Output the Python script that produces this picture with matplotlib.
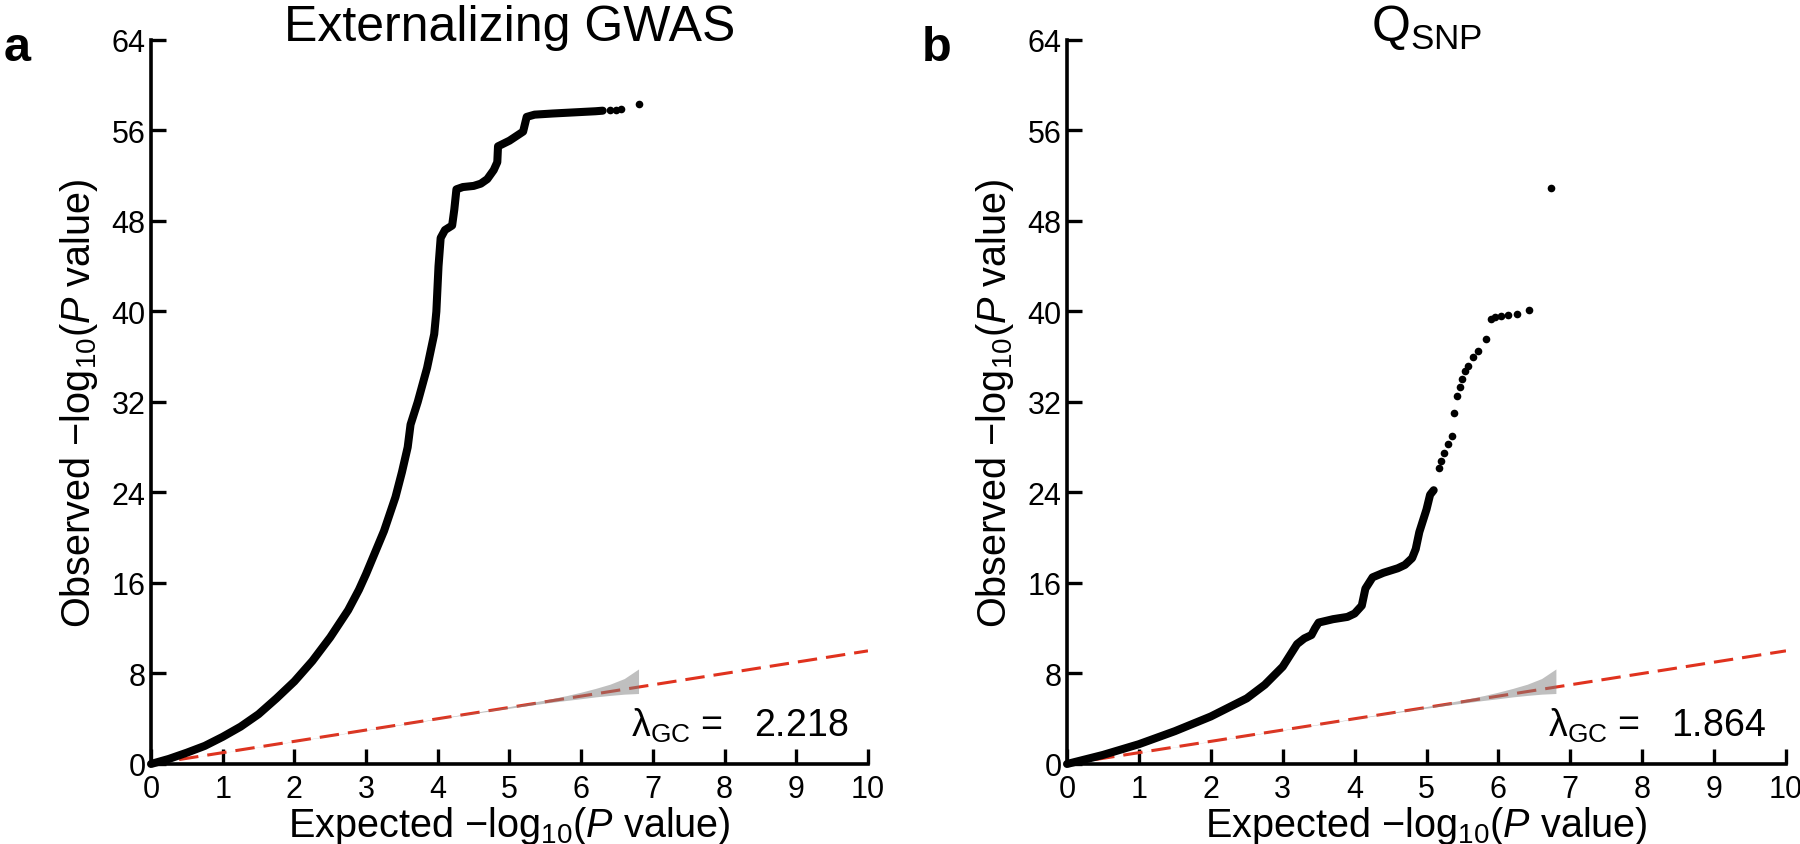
# coding=utf-8

import matplotlib
matplotlib.use("Agg")
import matplotlib.pyplot as plt

plt.rcParams["font.family"] = ["Liberation Sans", "DejaVu Sans"]
plt.rcParams["mathtext.fontset"] = "custom"
plt.rcParams["mathtext.rm"] = "Liberation Sans"
plt.rcParams["mathtext.it"] = "Liberation Sans:italic"
plt.rcParams["mathtext.bf"] = "Liberation Sans:bold"
plt.rcParams["lines.scale_dashes"] = False

x_ticks = list(range(0, 11))
y_ticks = list(range(0, 65, 8))

# null line and its 95% band
null_x = [0, 10]
null_y = [0, 10]
band_x = [0, 4.0, 4.5, 5.0, 5.5, 5.8, 6.0, 6.2, 6.4, 6.6, 6.8]
band_lo = [0, 3.98, 4.47, 4.93, 5.38, 5.62, 5.77, 5.93, 6.06, 6.17, 6.23]
band_hi = [0, 4.02, 4.54, 5.08, 5.66, 6.05, 6.35, 6.68, 7.05, 7.55, 8.4]

# panel a: externalizing GWAS
gwas_x = [0, 0.25, 0.5, 0.75, 1.0, 1.25, 1.5, 1.75, 2.0, 2.25, 2.5, 2.75, 2.9, 3.0,
          3.25, 3.41, 3.5, 3.58, 3.62, 3.72, 3.85, 3.95, 3.98, 4.01, 4.04, 4.1, 4.2,
          4.23, 4.26, 4.35, 4.5, 4.6, 4.69, 4.78, 4.83, 4.84, 5.0, 5.19, 5.24, 5.35,
          5.6, 5.9, 6.2, 6.3]
gwas_y = [0, 0.45, 1.0, 1.6, 2.4, 3.3, 4.4, 5.8, 7.3, 9.1, 11.2, 13.6, 15.4, 16.8,
          20.6, 23.6, 25.8, 28.0, 30.0, 32.0, 35.0, 38.0, 40.0, 44.0, 46.5, 47.2, 47.6,
          49.0, 50.8, 51.0, 51.1, 51.3, 51.7, 52.5, 53.2, 54.6, 55.1, 55.9, 57.2, 57.4,
          57.5, 57.6, 57.7, 57.75]
gwas_tail_x = [6.4, 6.48, 6.56, 6.8]
gwas_tail_y = [57.8, 57.85, 57.9, 58.3]
gwas_lambda = "2.218"

# panel b: Q_SNP
qsnp_x = [0, 0.5, 1.0, 1.5, 2.0, 2.5, 2.75, 3.0, 3.1, 3.2, 3.3, 3.4, 3.45, 3.5, 3.7,
          3.9, 4.0, 4.1, 4.15, 4.25, 4.4, 4.6, 4.7, 4.8, 4.85, 4.9, 4.95, 5.0, 5.05, 5.1]
qsnp_y = [0, 0.8, 1.75, 2.9, 4.2, 5.8, 7.0, 8.6, 9.6, 10.6, 11.1, 11.4, 12.0, 12.5, 12.8,
          13.0, 13.3, 14.0, 15.5, 16.5, 16.9, 17.3, 17.6, 18.2, 19.0, 20.5, 21.5, 22.5,
          23.8, 24.2]
qsnp_tail_x = [5.17, 5.2, 5.25, 5.3, 5.35, 5.38, 5.42, 5.46, 5.5, 5.54, 5.58, 5.65, 5.72,
               5.83, 5.9, 5.95, 6.04, 6.13, 6.26, 6.43, 6.73]
qsnp_tail_y = [26.2, 26.8, 27.5, 28.3, 29.0, 31.0, 32.5, 33.3, 34.0, 34.7, 35.2, 36.0, 36.5,
               37.6, 39.3, 39.5, 39.6, 39.7, 39.8, 40.1, 50.9]
qsnp_lambda = "1.864"

panels = [
    ("a", "Externalizing GWAS", gwas_x, gwas_y, gwas_tail_x, gwas_tail_y, gwas_lambda),
    ("b", r"$\mathrm{Q}_{\mathrm{SNP}}$", qsnp_x, qsnp_y, qsnp_tail_x, qsnp_tail_y, qsnp_lambda),
]
axes_pos = [[0.0839, 0.0947, 0.3983, 0.8568], [0.5928, 0.0947, 0.3994, 0.8568]]
letter_x = [0.002, 0.512]

fig = plt.figure(figsize=(18, 8.45), dpi=100)

for (letter, title, cx, cy, tx, ty, lam), pos, lx in zip(panels, axes_pos, letter_x):
    ax = fig.add_axes(pos)
    ax.plot(null_x, null_y, color="#e0321e", lw=2.2, dashes=(14, 6.5), zorder=2)
    ax.fill_between(band_x, band_lo, band_hi, color="#808080", alpha=0.5, lw=0, zorder=3)
    ax.plot(cx, cy, color="k", lw=5.8, solid_capstyle="round", solid_joinstyle="round",
            zorder=4, clip_on=False)
    ax.plot(tx, ty, "o", color="k", ms=5.5, mew=0, zorder=4, clip_on=False)

    ax.set_xlim(0, 10)
    ax.set_ylim(0, 64)
    ax.set_xticks(x_ticks)
    ax.set_yticks(y_ticks)
    for side in ["top", "right"]:
        ax.spines[side].set_visible(False)
    for side in ["left", "bottom"]:
        ax.spines[side].set_linewidth(2.6)
    ax.tick_params(direction="in", length=11, width=2.4, labelsize=22)
    ax.tick_params(axis="x", pad=7)
    ax.tick_params(axis="y", pad=4)

    ax.set_xlabel("Expected \u2212log$_{10}$($\\it{P}$ value)", fontsize=28.5, labelpad=0)
    ax.set_ylabel("Observed \u2212log$_{10}$($\\it{P}$ value)", fontsize=28.5, labelpad=8)
    ax.text(0.5, 1.0, title, transform=ax.transAxes, ha="center", va="baseline", fontsize=36)
    ax.text(9.72, 2.5, "\u03bb$_{\\mathrm{GC}}$ =   " + lam, ha="right", va="baseline",
            fontsize=27)
    fig.text(lx, 0.928, letter, fontsize=35, fontweight="bold", va="baseline")

fig.savefig("out.png", dpi=100)
